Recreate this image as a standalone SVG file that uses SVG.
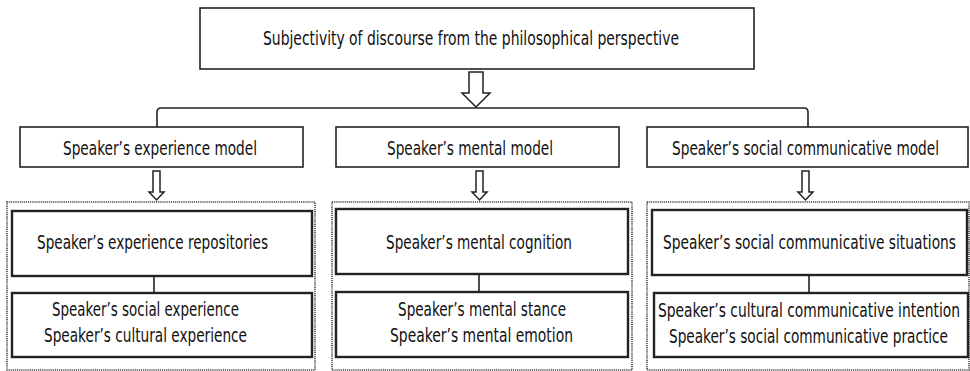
<svg xmlns="http://www.w3.org/2000/svg" width="970" height="371" viewBox="0 0 970 371">
<style>
  .bg { fill: #ffffff; }
  .box { fill: #ffffff; stroke: #222222; stroke-width: 1.6; }
  .inner { fill: #ffffff; stroke: #222222; stroke-width: 2.4; }
  .group { fill: none; stroke: #444444; stroke-width: 1.6; stroke-dasharray: 1.2 0.9; }
  .line { fill: none; stroke: #222222; stroke-width: 1.6; }
  .arrow { fill: #ffffff; stroke: #222222; stroke-width: 1.5; stroke-linejoin: miter; }
  text { font-family: "Liberation Sans Narrow", "DejaVu Sans Condensed", "Liberation Sans", sans-serif; font-size: 19px; fill: #111111; text-anchor: middle; }
</style>
<rect class="bg" x="0" y="0" width="970" height="371"/>

<g id="connectors">
  <path class="line" d="M157,127 V112 Q157,108 161,108 H804 Q808,108 808,112 V127"/>
  <path class="arrow" d="M469,72 H483 V93 H490 L476,107 L462,93 H469 Z"/>
  <path class="arrow" d="M153,171 H160 V192 H164 L156.5,200 L149,192 H153 Z"/>
  <path class="arrow" d="M476,171 H483 V192 H487 L479.5,200 L472,192 H476 Z"/>
  <path class="arrow" d="M802,171 H809 V192 H813 L805.5,200 L798,192 H802 Z"/>
  <line class="line" x1="154" y1="276" x2="154" y2="293"/>
  <line class="line" x1="479" y1="274" x2="479" y2="292"/>
  <line class="line" x1="809" y1="275" x2="809" y2="293"/>
</g>

<g id="root">
  <rect class="box" x="200" y="8" width="554" height="61"/>
  <text x="471" y="45" textLength="416" lengthAdjust="spacingAndGlyphs">Subjectivity of discourse from the philosophical perspective</text>
</g>

<g id="experience-model">
  <rect class="box" x="20" y="127" width="283" height="40"/>
  <text x="160" y="155" textLength="194" lengthAdjust="spacingAndGlyphs">Speaker’s experience model</text>
</g>
<g id="mental-model">
  <rect class="box" x="336" y="127" width="283" height="40"/>
  <text x="470" y="155" textLength="166" lengthAdjust="spacingAndGlyphs">Speaker’s mental model</text>
</g>
<g id="social-model">
  <rect class="box" x="647" y="127" width="321" height="40"/>
  <text x="805.5" y="155" textLength="267" lengthAdjust="spacingAndGlyphs">Speaker’s social communicative model</text>
</g>

<g id="experience-group">
  <rect class="group" x="7" y="202" width="308" height="168"/>
</g>
<g id="mental-group">
  <rect class="group" x="332" y="202" width="300" height="168"/>
</g>
<g id="social-group">
  <rect class="group" x="647" y="202" width="322" height="168"/>
</g>

<g id="experience-repositories">
  <rect class="inner" x="12" y="211" width="300" height="65"/>
  <text x="152.5" y="249" textLength="231" lengthAdjust="spacingAndGlyphs">Speaker’s experience repositories</text>
</g>
<g id="experience-detail">
  <rect class="inner" x="12" y="293" width="300" height="64"/>
  <text x="145.5" y="316" textLength="187" lengthAdjust="spacingAndGlyphs">Speaker’s social experience</text>
  <text x="145.5" y="342" textLength="203" lengthAdjust="spacingAndGlyphs">Speaker’s cultural experience</text>
</g>

<g id="mental-cognition">
  <rect class="inner" x="336" y="209" width="292" height="65"/>
  <text x="479" y="249" textLength="186" lengthAdjust="spacingAndGlyphs">Speaker’s mental cognition</text>
</g>
<g id="mental-detail">
  <rect class="inner" x="336" y="292" width="292" height="65"/>
  <text x="482" y="316" textLength="168" lengthAdjust="spacingAndGlyphs">Speaker’s mental stance</text>
  <text x="481.5" y="342" textLength="183" lengthAdjust="spacingAndGlyphs">Speaker’s mental emotion</text>
</g>

<g id="social-situations">
  <rect class="inner" x="652" y="210" width="315" height="65"/>
  <text x="809.5" y="249" textLength="293" lengthAdjust="spacingAndGlyphs">Speaker’s social communicative situations</text>
</g>
<g id="social-detail">
  <rect class="inner" x="654" y="293" width="314" height="64"/>
  <text x="809" y="317" textLength="302" lengthAdjust="spacingAndGlyphs">Speaker’s cultural communicative intention</text>
  <text x="808.5" y="343" textLength="279" lengthAdjust="spacingAndGlyphs">Speaker’s social communicative practice</text>
</g>
</svg>
